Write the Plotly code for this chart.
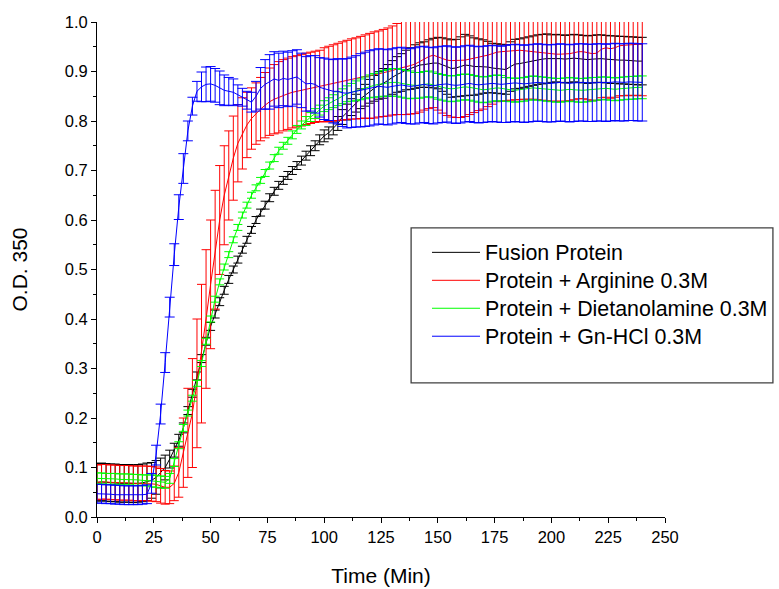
import plotly.graph_objects as go

time_min = [
    0, 2, 4, 6, 8, 10, 12, 14, 16, 18, 20, 22, 24, 26, 28, 30, 32, 34, 36, 38,
    40, 42, 44, 46, 48, 50, 52, 54, 56, 58, 60, 62, 64, 66, 68, 70, 72, 74, 76, 78,
    80, 82, 84, 86, 88, 90, 92, 94, 96, 98, 100, 102, 104, 106, 108, 110, 112, 114, 116, 118,
    120, 122, 124, 126, 128, 130, 132, 134, 136, 138, 140, 142, 144, 146, 148, 150, 152, 154, 156, 158,
    160, 162, 164, 166, 168, 170, 172, 174, 176, 178, 180, 182, 184, 186, 188, 190, 192, 194, 196, 198,
    200, 202, 204, 206, 208, 210, 212, 214, 216, 218, 220, 222, 224, 226, 228, 230, 232, 234, 236, 238, 240,
]

fusion = [
    0.070, 0.071, 0.070, 0.069, 0.069, 0.068, 0.068, 0.068, 0.067, 0.068, 0.069, 0.071,
    0.074, 0.080, 0.089, 0.100, 0.117, 0.135, 0.155, 0.180,
    0.215, 0.250, 0.285, 0.320, 0.355, 0.385, 0.410, 0.435, 0.458, 0.480,
    0.500, 0.520, 0.540, 0.560, 0.580, 0.600, 0.615, 0.630, 0.645, 0.658,
    0.670, 0.680, 0.690, 0.700, 0.710, 0.720, 0.730, 0.740, 0.750, 0.762,
    0.770, 0.776, 0.785, 0.795, 0.808, 0.818, 0.828, 0.836, 0.845, 0.852,
    0.860, 0.866, 0.872, 0.876, 0.882, 0.888, 0.894, 0.898, 0.903, 0.906,
    0.910, 0.913, 0.914, 0.916, 0.917, 0.917, 0.914, 0.910, 0.906, 0.907,
    0.910, 0.913, 0.912, 0.910, 0.910, 0.910, 0.909, 0.907, 0.906, 0.905,
    0.904, 0.910, 0.915, 0.916, 0.918, 0.920, 0.922, 0.924, 0.925, 0.926,
    0.926, 0.927, 0.926, 0.925, 0.926, 0.927, 0.926, 0.925, 0.924, 0.925,
    0.926, 0.926, 0.925, 0.924, 0.924, 0.923, 0.923, 0.922, 0.922, 0.921, 0.921,
]
fusion_err = [
    0.038, 0.038, 0.038, 0.038, 0.038, 0.038, 0.038, 0.038, 0.038, 0.038, 0.038, 0.038,
    0.036, 0.034, 0.030, 0.025, 0.018, 0.014, 0.012, 0.010,
    0.008, 0.008, 0.008, 0.008, 0.008, 0.008, 0.008, 0.008, 0.008, 0.008,
    0.007, 0.007, 0.007, 0.007, 0.007, 0.007, 0.007, 0.008, 0.008, 0.008,
    0.008, 0.008, 0.008, 0.008, 0.008, 0.009, 0.009, 0.010, 0.010, 0.010,
    0.012, 0.012, 0.013, 0.014, 0.015, 0.016, 0.017, 0.018, 0.020, 0.022,
    0.024, 0.026, 0.028, 0.030, 0.032, 0.034, 0.036, 0.038, 0.040, 0.042,
    0.044, 0.045, 0.046, 0.048, 0.050, 0.052, 0.054, 0.056, 0.058, 0.058,
    0.060, 0.062, 0.060, 0.058, 0.056, 0.054, 0.052, 0.050, 0.050, 0.050,
    0.050, 0.050, 0.050, 0.050, 0.050, 0.050, 0.050, 0.050, 0.050, 0.050,
    0.048, 0.048, 0.048, 0.048, 0.048, 0.048, 0.048, 0.048, 0.048, 0.048,
    0.048, 0.048, 0.048, 0.048, 0.048, 0.048, 0.048, 0.048, 0.048, 0.048, 0.048,
]

arginine = [
    0.070, 0.071, 0.071, 0.070, 0.070, 0.069, 0.069, 0.069, 0.068, 0.068, 0.068, 0.068,
    0.067, 0.066, 0.063, 0.060, 0.060, 0.068, 0.090, 0.130,
    0.170, 0.210, 0.270, 0.330, 0.400, 0.470, 0.540, 0.600, 0.650, 0.690,
    0.725, 0.755, 0.775, 0.792, 0.805, 0.815, 0.824, 0.832, 0.839, 0.844,
    0.848, 0.852, 0.855, 0.858, 0.860, 0.862, 0.865, 0.867, 0.869, 0.871,
    0.873, 0.875, 0.877, 0.879, 0.881, 0.883, 0.885, 0.886, 0.888, 0.890,
    0.891, 0.893, 0.895, 0.897, 0.899, 0.902, 0.905, 0.907, 0.909, 0.912,
    0.915, 0.920, 0.926, 0.930, 0.933, 0.930, 0.926, 0.923, 0.922, 0.922,
    0.922, 0.923, 0.925, 0.927, 0.929, 0.930, 0.933, 0.936, 0.939, 0.940,
    0.941, 0.942, 0.943, 0.943, 0.942, 0.941, 0.940, 0.938, 0.937, 0.936,
    0.935, 0.935, 0.935, 0.935, 0.936, 0.938, 0.940, 0.940, 0.938, 0.936,
    0.937, 0.945, 0.948, 0.946, 0.948, 0.952, 0.953, 0.954, 0.954, 0.955, 0.955,
]
arginine_err = [
    0.035, 0.035, 0.035, 0.035, 0.035, 0.035, 0.035, 0.035, 0.035, 0.035, 0.035, 0.035,
    0.035, 0.035, 0.035, 0.034, 0.033, 0.035, 0.050, 0.070,
    0.090, 0.110, 0.130, 0.140, 0.140, 0.130, 0.120, 0.110, 0.100, 0.090,
    0.085, 0.078, 0.072, 0.066, 0.062, 0.062, 0.064, 0.066, 0.068, 0.070,
    0.072, 0.072, 0.072, 0.072, 0.072, 0.072, 0.072, 0.072, 0.072, 0.072,
    0.075, 0.076, 0.077, 0.078, 0.079, 0.080, 0.081, 0.082, 0.083, 0.084,
    0.086, 0.087, 0.087, 0.088, 0.089, 0.090, 0.092, 0.094, 0.096, 0.098,
    0.100, 0.102, 0.104, 0.105, 0.106, 0.108, 0.110, 0.112, 0.114, 0.115,
    0.115, 0.114, 0.112, 0.110, 0.108, 0.106, 0.104, 0.102, 0.100, 0.100,
    0.100, 0.100, 0.100, 0.100, 0.098, 0.097, 0.096, 0.095, 0.095, 0.095,
    0.095, 0.095, 0.095, 0.095, 0.095, 0.095, 0.095, 0.095, 0.095, 0.095,
    0.095, 0.098, 0.100, 0.100, 0.100, 0.101, 0.102, 0.102, 0.103, 0.103, 0.104,
]

dietanolamine = [
    0.078, 0.078, 0.077, 0.077, 0.077, 0.076, 0.076, 0.076, 0.075, 0.075, 0.074, 0.074,
    0.073, 0.072, 0.071, 0.070, 0.078, 0.110, 0.145, 0.180,
    0.210, 0.240, 0.270, 0.310, 0.355, 0.400, 0.440, 0.475, 0.505, 0.530,
    0.560, 0.585, 0.610, 0.630, 0.650, 0.665, 0.680, 0.695, 0.710, 0.725,
    0.740, 0.750, 0.760, 0.772, 0.783, 0.792, 0.800, 0.808, 0.815, 0.822,
    0.830, 0.835, 0.840, 0.845, 0.850, 0.855, 0.858, 0.861, 0.864, 0.867,
    0.870, 0.872, 0.874, 0.876, 0.877, 0.878, 0.878, 0.876, 0.874, 0.873,
    0.872, 0.872, 0.874, 0.875, 0.873, 0.870, 0.868, 0.866, 0.865, 0.866,
    0.868, 0.869, 0.868, 0.866, 0.864, 0.863, 0.864, 0.866, 0.867, 0.866,
    0.864, 0.863, 0.862, 0.863, 0.864, 0.866, 0.867, 0.866, 0.865, 0.864,
    0.863, 0.862, 0.862, 0.863, 0.864, 0.863, 0.862, 0.862, 0.863, 0.864,
    0.865, 0.866, 0.866, 0.865, 0.864, 0.865, 0.866, 0.867, 0.867, 0.868, 0.868,
]
dietanolamine_err = [
    0.011, 0.011, 0.011, 0.011, 0.011, 0.011, 0.011, 0.011, 0.011, 0.011, 0.011, 0.011,
    0.012, 0.012, 0.012, 0.012, 0.010, 0.008, 0.007, 0.007,
    0.006, 0.006, 0.006, 0.006, 0.006, 0.006, 0.006, 0.006, 0.006, 0.006,
    0.006, 0.006, 0.006, 0.006, 0.006, 0.006, 0.006, 0.007, 0.007, 0.007,
    0.007, 0.007, 0.007, 0.008, 0.008, 0.008, 0.009, 0.009, 0.010, 0.010,
    0.011, 0.012, 0.013, 0.014, 0.015, 0.016, 0.018, 0.020, 0.021, 0.022,
    0.023, 0.024, 0.025, 0.026, 0.027, 0.028, 0.028, 0.028, 0.028, 0.028,
    0.026, 0.026, 0.026, 0.026, 0.026, 0.026, 0.026, 0.026, 0.026, 0.026,
    0.026, 0.026, 0.026, 0.026, 0.026, 0.026, 0.026, 0.026, 0.026, 0.026,
    0.024, 0.024, 0.024, 0.024, 0.024, 0.024, 0.024, 0.024, 0.024, 0.024,
    0.024, 0.024, 0.024, 0.024, 0.024, 0.024, 0.024, 0.024, 0.024, 0.024,
    0.023, 0.023, 0.023, 0.023, 0.023, 0.023, 0.023, 0.023, 0.023, 0.023, 0.023,
]

gnhcl = [
    0.047, 0.047, 0.046, 0.046, 0.045, 0.045, 0.044, 0.044, 0.044, 0.044, 0.045, 0.046,
    0.068, 0.125, 0.208, 0.312, 0.424, 0.530, 0.626, 0.704,
    0.780, 0.830, 0.860, 0.869, 0.874, 0.875, 0.872, 0.867, 0.862, 0.860,
    0.858, 0.853, 0.848, 0.842, 0.838, 0.850, 0.866, 0.874, 0.879, 0.885,
    0.882, 0.886, 0.884, 0.886, 0.889, 0.882, 0.875, 0.876, 0.874, 0.868,
    0.865, 0.863, 0.860, 0.860, 0.857, 0.856, 0.858, 0.860, 0.862, 0.864,
    0.866, 0.868, 0.870, 0.869, 0.868, 0.870, 0.872, 0.873, 0.871, 0.870,
    0.871, 0.873, 0.874, 0.872, 0.871, 0.873, 0.874, 0.875, 0.873, 0.872,
    0.873, 0.875, 0.876, 0.874, 0.873, 0.874, 0.875, 0.876, 0.875, 0.874,
    0.875, 0.876, 0.877, 0.876, 0.875, 0.876, 0.877, 0.878, 0.877, 0.876,
    0.876, 0.877, 0.878, 0.877, 0.876, 0.877, 0.878, 0.878, 0.877, 0.877,
    0.878, 0.878, 0.877, 0.878, 0.879, 0.878, 0.878, 0.879, 0.879, 0.878, 0.878,
]
gnhcl_err = [
    0.019, 0.019, 0.019, 0.019, 0.019, 0.019, 0.019, 0.019, 0.019, 0.019, 0.019, 0.019,
    0.020, 0.020, 0.020, 0.020, 0.020, 0.022, 0.025, 0.030,
    0.020, 0.018, 0.020, 0.030, 0.035, 0.035, 0.034, 0.034, 0.031, 0.028,
    0.027, 0.020, 0.018, 0.018, 0.020, 0.030, 0.042, 0.050, 0.055, 0.055,
    0.055, 0.055, 0.055, 0.056, 0.055, 0.055, 0.055, 0.056, 0.058, 0.060,
    0.062, 0.062, 0.064, 0.066, 0.068, 0.070, 0.071, 0.072, 0.074, 0.075,
    0.076, 0.076, 0.076, 0.076, 0.076, 0.076, 0.076, 0.076, 0.076, 0.076,
    0.077, 0.077, 0.077, 0.077, 0.077, 0.077, 0.077, 0.077, 0.077, 0.077,
    0.077, 0.077, 0.077, 0.077, 0.077, 0.077, 0.077, 0.077, 0.077, 0.077,
    0.078, 0.078, 0.078, 0.078, 0.078, 0.078, 0.078, 0.078, 0.078, 0.078,
    0.078, 0.078, 0.078, 0.078, 0.078, 0.078, 0.078, 0.078, 0.078, 0.078,
    0.078, 0.078, 0.078, 0.078, 0.078, 0.078, 0.078, 0.078, 0.078, 0.078, 0.078,
]

series_names = [
    "Fusion Protein",
    "Protein + Arginine 0.3M",
    "Protein + Dietanolamine 0.3M",
    "Protein + Gn-HCl 0.3M",
]
series_values = [fusion, arginine, dietanolamine, gnhcl]
series_errors = [fusion_err, arginine_err, dietanolamine_err, gnhcl_err]
series_colors = ["#000000", "#ff0000", "#00ff00", "#0000ff"]
cap_widths = [4.5, 4.5, 4.5, 5]

FONT = "Liberation Sans, Arial, sans-serif"

fig = go.Figure()
for name, vals, errs, col, cw in zip(series_names, series_values, series_errors,
                                     series_colors, cap_widths):
    fig.add_trace(go.Scatter(
        x=time_min, y=vals, mode="lines",
        name="<span style='font-size:21.4px'>" + name + "</span>",
        line=dict(color=col, width=1),
        error_y=dict(type="data", array=errs, visible=True, color=col,
                     thickness=1, width=cw),
    ))

axis_common = dict(
    showline=True, linecolor="black", linewidth=1, mirror=False,
    showgrid=False, zeroline=False, automargin=False,
    ticks="outside", ticklen=5, tickwidth=1, tickcolor="black",
    tickfont=dict(family=FONT, size=16.5, color="black"),
)

fig.update_layout(
    width=779, height=589,
    margin=dict(l=97, r=114, t=22, b=72, autoexpand=False),
    paper_bgcolor="white", plot_bgcolor="white",
    font=dict(family=FONT, color="black"),
    xaxis=dict(
        range=[0, 250], dtick=25, tick0=0,
        title=dict(text="Time (Min)", font=dict(family=FONT, size=21), standoff=23),
        minor=dict(ticks="outside", ticklen=3, tickcolor="black", dtick=12.5, tick0=0),
        **axis_common,
    ),
    yaxis=dict(
        range=[0, 1.0], dtick=0.1, tick0=0, tickformat=".1f",
        title=dict(text="O.D. 350", font=dict(family=FONT, size=21), standoff=31),
        minor=dict(ticks="outside", ticklen=3, tickcolor="black", dtick=0.05, tick0=0),
        **axis_common,
    ),
    legend=dict(
        x=0.581, y=0.573, xanchor="left", yanchor="top",
        bgcolor="rgba(0,0,0,0)", borderwidth=0,
        font=dict(family=FONT, size=19.2, color="black"),
        itemwidth=48, tracegroupgap=0,
    ),
    shapes=[dict(
        type="rect", xref="paper", yref="paper",
        x0=0.553, x1=1.190, y0=0.271, y1=0.584,
        line=dict(color="#404040", width=1.3), fillcolor="rgba(0,0,0,0)",
        layer="above",
    )],
    showlegend=True,
)

fig.write_html("out.html")
